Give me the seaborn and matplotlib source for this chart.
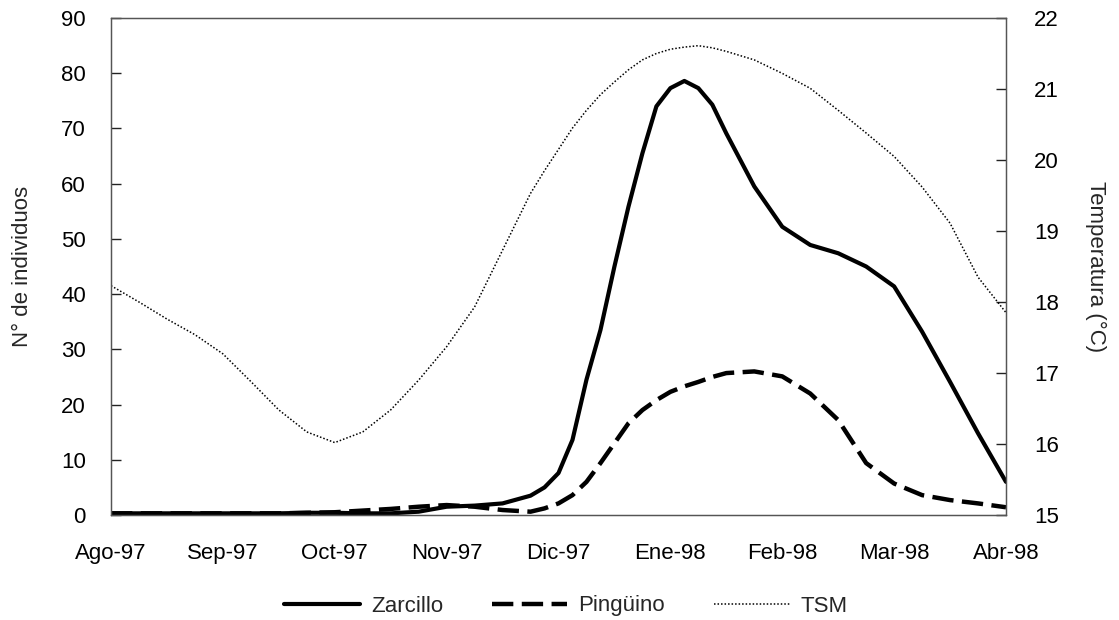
import numpy as np
import pandas as pd
import matplotlib
matplotlib.use("Agg")
import matplotlib.pyplot as plt
import seaborn as sns

# ---- data (months since Ago-97) ----
meses = ["Ago-97", "Sep-97", "Oct-97", "Nov-97", "Dic-97",
         "Ene-98", "Feb-98", "Mar-98", "Abr-98"]
tiempo = [0.0, 0.25, 0.5, 0.75, 1.0, 1.25, 1.5, 1.75, 2.0, 2.25, 2.5, 2.75,
          3.0, 3.25, 3.5, 3.75, 3.875, 4.0, 4.125, 4.25, 4.375, 4.5, 4.625, 4.75,
          4.875, 5.0, 5.125, 5.25, 5.375, 5.5, 5.75, 6.0, 6.25, 6.5, 6.75,
          7.0, 7.25, 7.5, 7.75, 8.0]
zarcillo = [0.3, 0.3, 0.3, 0.3, 0.3, 0.3, 0.3, 0.4, 0.4, 0.3, 0.3, 0.6,
            1.5, 1.7, 2.1, 3.5, 5.0, 7.6, 13.6, 24.5, 33.5, 45.0, 55.8, 65.5,
            74.0, 77.3, 78.6, 77.3, 74.3, 69.1, 59.5, 52.2, 48.9, 47.4, 45.0,
            41.4, 33.2, 24.1, 14.8, 6.0]
pinguino = [0.3, 0.3, 0.3, 0.3, 0.3, 0.3, 0.3, 0.4, 0.5, 0.8, 1.1, 1.5,
            1.8, 1.5, 0.9, 0.6, 1.2, 2.1, 3.6, 6.0, 9.4, 13.0, 16.6, 19.0,
            20.8, 22.3, 23.3, 24.1, 25.0, 25.7, 26.0, 25.1, 22.0, 17.2, 9.4,
            5.7, 3.6, 2.7, 2.1, 1.4]
tsm = [18.23, 18.00, 17.76, 17.54, 17.27, 16.88, 16.48, 16.17, 16.02, 16.17,
       16.48, 16.90, 17.37, 17.93, 18.73, 19.53, 19.85, 20.15, 20.45, 20.70,
       20.92, 21.10, 21.27, 21.41, 21.50, 21.56, 21.59, 21.61, 21.58, 21.53,
       21.41, 21.22, 21.01, 20.70, 20.38, 20.05, 19.62, 19.11, 18.35, 17.85]

df = pd.DataFrame({"tiempo": tiempo, "Zarcillo": zarcillo,
                   "Pingüino": pinguino, "TSM": tsm})

sns.set_style("white")
plt.rcParams["font.family"] = ["Liberation Sans", "DejaVu Sans"]

fig = plt.figure(figsize=(11.19, 6.20), dpi=100)
ax = fig.add_axes([111 / 1119, 1 - 515 / 620, (1006 - 111) / 1119, (515 - 18) / 620])
ax2 = ax.twinx()

sns.lineplot(data=df, x="tiempo", y="Zarcillo", ax=ax, color="black",
             linewidth=3.0, label="Zarcillo", legend=False)
sns.lineplot(data=df, x="tiempo", y="Pingüino", ax=ax, color="black",
             linewidth=3.2, dashes=(4.8, 1.9), label="Pingüino", legend=False)
sns.lineplot(data=df, x="tiempo", y="TSM", ax=ax2, color="black",
             linewidth=1.1, dashes=(1.0, 1.3), label="TSM", legend=False)

ax.set_xlim(0, 8)
ax.set_ylim(0, 90)
ax2.set_ylim(15, 22)
ax.set_xticks(range(len(meses)))
ax.set_xticklabels(meses)
ax.set_yticks(range(0, 91, 10))
ax2.set_yticks(range(15, 23))

fs = 16
ax.tick_params(axis="y", direction="in", length=7, width=1, labelsize=fs, pad=18, colors="#222222", labelcolor="black")
ax.tick_params(axis="x", direction="in", length=3, width=1, labelsize=fs, pad=20, colors="#222222", labelcolor="black")
ax2.tick_params(axis="y", direction="in", length=7, width=1, labelsize=fs, pad=20, colors="#222222", labelcolor="black")

ax.set_xlabel("")
ax.set_ylabel("N° de individuos", fontsize=fs, labelpad=20)
ax2.set_ylabel("Temperatura (°C)", fontsize=fs, rotation=270, labelpad=34)

for a in (ax, ax2):
    for s in a.spines.values():
        s.set_color("#555555")
        s.set_linewidth(0.9)

h1, l1 = ax.get_legend_handles_labels()
h2, l2 = ax2.get_legend_handles_labels()
fig.legend(h1 + h2, l1 + l2, loc="center", bbox_to_anchor=(566 / 1119, 1 - 606 / 620),
           ncol=3, frameon=False, fontsize=fs, handlelength=3.4,
           columnspacing=2.2, handletextpad=0.5)

fig.savefig("out.png", dpi=100)
